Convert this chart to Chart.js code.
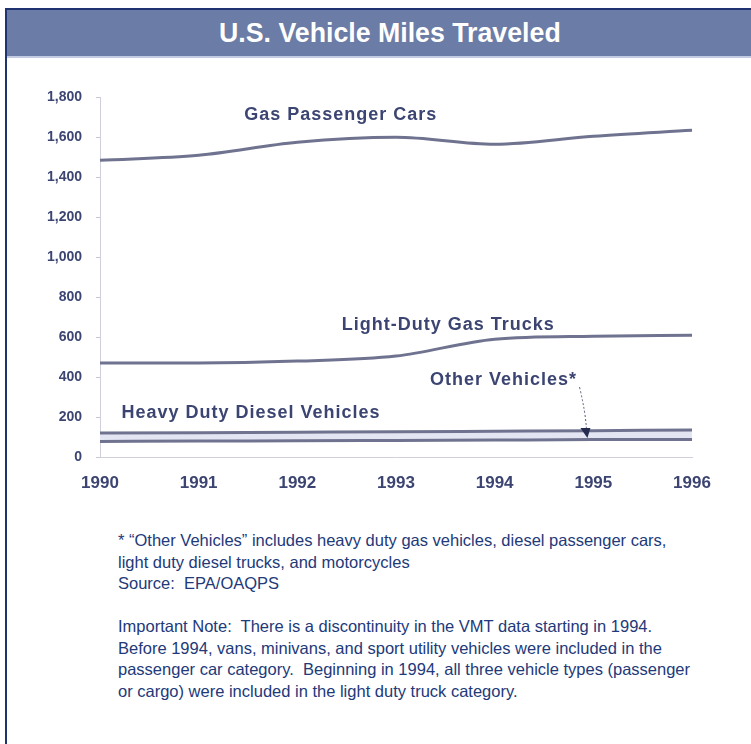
<!DOCTYPE html>
<html>
<head>
<meta charset="utf-8">
<script src="https://cdn.jsdelivr.net/npm/chart.js@4"></script>
<style>
  html, body { margin: 0; padding: 0; background: #fff; }
  body { width: 751px; height: 744px; position: relative; overflow: hidden; }
  #frame { position: absolute; left: 5px; top: 8px; width: 760px; height: 760px; border-left: 2px solid #1f3370; border-top: 2px solid #1f3370; }
  #header { position: absolute; left: 7px; top: 10px; width: 744px; height: 46px; background: #6b7ca6; border-bottom: 2px solid #c3cbe2; }
  #title { position: absolute; left: 212px; top: 0; white-space: nowrap; color: #fff;
           font-family: "Liberation Sans", Arial, sans-serif; font-weight: bold; font-size: 27px; line-height: 46px;
           transform: scaleX(0.99); transform-origin: left center; }
  #box { position: absolute; left: 0; top: 75px; width: 751px; height: 430px; }
  #notes { position: absolute; left: 118px; top: 530px; width: 720px; color: #22397a; white-space: nowrap;
           font-family: "Liberation Sans", Arial, sans-serif; font-size: 16.5px; line-height: 21.5px; }
  #notes p { margin: 0 0 21.5px 0; }
</style>
</head>
<body>
<div id="frame"></div>
<div id="header"><div id="title">U.S. Vehicle Miles Traveled</div></div>
<div id="box"><canvas id="myChart" width="751" height="430"></canvas></div>
<div id="notes">
  <p>* “Other Vehicles” includes heavy duty gas vehicles, diesel passenger cars,<br>light duty diesel trucks, and motorcycles<br>Source:&nbsp; EPA/OAQPS</p>
  <p>Important Note:&nbsp; There is a discontinuity in the VMT data starting in 1994.<br>Before 1994, vans, minivans, and sport utility vehicles were included in the<br>passenger car category.&nbsp; Beginning in 1994, all three vehicle types (passenger<br>or cargo) were included in the light duty truck category.</p>
</div>
<script>
const years = ['1990', '1991', '1992', '1993', '1994', '1995', '1996'];
const gasCars = [1485, 1510, 1575, 1600, 1565, 1605, 1635];
const lightTrucks = [470, 470, 480, 505, 590, 605, 610];
const heavyDiesel = [120, 122, 124, 126, 129, 132, 135];
const otherVehicles = [78, 80, 81, 83, 85, 87, 88];
const yTicks = [0, 200, 400, 600, 800, 1000, 1200, 1400, 1600, 1800];

const lineColor = '#70738f';
const textColor = '#3c4572';

// series names written on the plot, placed in data units
const seriesLabels = [
    { text: 'Gas Passenger Cars', x: 2.44, y: 1710 },
    { text: 'Light-Duty Gas Trucks', x: 3.53, y: 660 },
    { text: 'Other Vehicles*', x: 4.09, y: 385 },
    { text: 'Heavy Duty Diesel Vehicles', x: 1.53, y: 220 }
];

const labelPlugin = {
    id: 'seriesLabels',
    afterDatasetsDraw(chart) {
        const c = chart.ctx;
        const xs = chart.scales.x, ys = chart.scales.y;
        c.save();
        c.font = 'bold 18px "Liberation Sans", Arial, sans-serif';
        c.letterSpacing = '1px';
        c.fillStyle = textColor;
        c.textAlign = 'center';
        c.textBaseline = 'middle';
        seriesLabels.forEach(l => {
            c.fillText(l.text, xs.getPixelForValue(l.x), ys.getPixelForValue(l.y));
        });
        // arrow from "Other Vehicles*" down to the band
        const x1 = xs.getPixelForValue(4.86), y1 = ys.getPixelForValue(350);
        const x2 = xs.getPixelForValue(4.93), y2 = ys.getPixelForValue(100);
        c.strokeStyle = '#55597a';
        c.lineWidth = 1;
        c.setLineDash([2, 2]);
        c.beginPath();
        c.moveTo(x1, y1);
        c.quadraticCurveTo(x1 + 6, (y1 + y2) / 2, x2, y2 - 8);
        c.stroke();
        c.setLineDash([]);
        c.fillStyle = '#262b50';
        c.beginPath();
        c.moveTo(x2 + 1, y2 + 1);
        c.lineTo(x2 - 6, y2 - 9);
        c.lineTo(x2 + 4, y2 - 9);
        c.closePath();
        c.fill();
        c.restore();
    }
};

const ctx = document.getElementById('myChart').getContext('2d');
const myChart = new Chart(ctx, {
    type: 'line',
    data: {
        labels: years,
        datasets: [{
            label: 'Gas Passenger Cars',
            data: gasCars,
            borderColor: lineColor,
            borderWidth: 3,
            fill: false
        }, {
            label: 'Light-Duty Gas Trucks',
            data: lightTrucks,
            borderColor: lineColor,
            borderWidth: 3,
            fill: false
        }, {
            label: 'Heavy Duty Diesel Vehicles',
            data: heavyDiesel,
            borderColor: lineColor,
            borderWidth: 3,
            fill: false
        }, {
            label: 'Other Vehicles',
            data: otherVehicles,
            borderColor: lineColor,
            borderWidth: 3,
            backgroundColor: '#e3e5f2',
            fill: '-1'
        }]
    },
    options: {
        responsive: false,
        animation: false,
        devicePixelRatio: 1,
        cubicInterpolationMode: 'monotone',
        elements: { point: { radius: 0 } },
        layout: { padding: { left: 0, right: 59, top: 12, bottom: 0 } },
        plugins: { legend: { display: false }, tooltip: { enabled: false } },
        scales: {
            x: {
                offset: false,
                grid: { display: false, drawTicks: false },
                border: { display: true, color: '#cfd0da', width: 1 },
                ticks: {
                    color: textColor,
                    font: { family: '"Liberation Sans", Arial, sans-serif', size: 17, weight: 'bold' },
                    padding: 16,
                    maxRotation: 0
                },
                afterFit: s => { s.height = 48; }
            },
            y: {
                min: 0,
                max: 1800,
                afterBuildTicks: s => { s.ticks = yTicks.map(v => ({ value: v })); },
                grid: { drawOnChartArea: false, tickLength: 4, color: '#c8c9d6' },
                border: { display: true, color: '#cfd0da', width: 1 },
                ticks: {
                    color: textColor,
                    font: { family: '"Liberation Sans", Arial, sans-serif', size: 14, weight: 'bold' },
                    padding: 14,
                    callback: v => v.toLocaleString('en-US')
                },
                afterFit: s => { s.width = 100; }
            }
        }
    },
    plugins: [labelPlugin]
});
</script>
</body>
</html>
